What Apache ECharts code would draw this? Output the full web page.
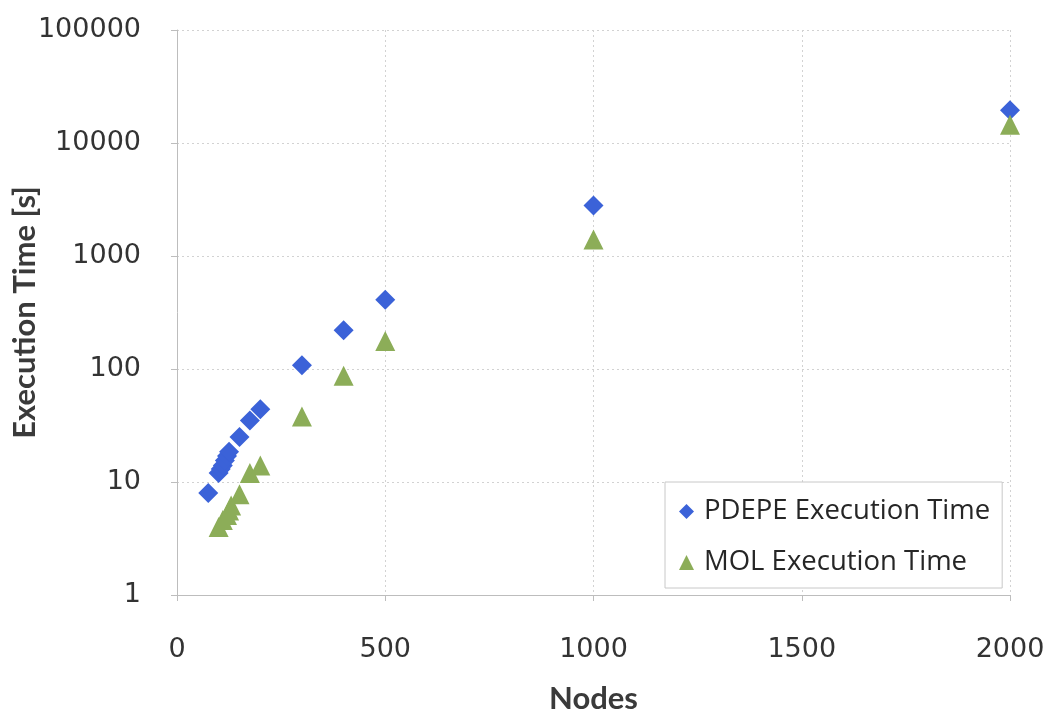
<!DOCTYPE html>
<html>
<head>
<meta charset="utf-8">
<script src="https://cdn.jsdelivr.net/npm/echarts@6/dist/echarts.min.js"></script>
<style>
  html, body { margin: 0; padding: 0; background: #ffffff; }
  #chart { width: 1047px; height: 715px; }
</style>
</head>
<body>
<div id="chart"></div>
<script>
// Execution time versus number of nodes for the two solvers
const pdepeNodes = [75, 100, 105, 110, 115, 120, 125, 150, 175, 200, 300, 400, 500, 1000, 2000];
const pdepeTime  = [8, 12, 13, 14, 15.5, 17, 18.5, 25, 35, 44, 108, 220, 410, 2800, 19500];

const molNodes = [100, 110, 120, 125, 130, 150, 175, 200, 300, 400, 500, 1000, 2000];
const molTime  = [4, 4.6, 5.1, 5.6, 6.2, 7.8, 12, 14, 38, 87, 177, 1400, 14500];

const seriesNames = ['PDEPE Execution Time', 'MOL Execution Time'];
const xTicks = [0, 500, 1000, 1500, 2000];
const yTicks = [1, 10, 100, 1000, 10000, 100000];

const pair = (xs, ys) => xs.map((x, i) => [x, ys[i]]);

const gridLine = { show: true, lineStyle: { color: '#d2d2d2', type: [2, 3], width: 1 } };
const axisLine = { show: true, lineStyle: { color: '#bdbdbd', width: 1 } };
const axisTick = { show: true, length: 6, lineStyle: { color: '#bdbdbd' } };
const tickFont = { fontFamily: 'DejaVu Sans', fontSize: 27, color: '#333333' };
const titleFont = { fontFamily: 'Lato', fontWeight: 'bold', fontSize: 31, color: '#3a3a3a' };

const chart = echarts.init(document.getElementById('chart'), null, { renderer: 'canvas' });
chart.setOption({
  animation: false,
  backgroundColor: '#ffffff',
  grid: { left: 177, right: 37, top: 30, bottom: 120, containLabel: false, outerBoundsMode: 'none' },
  xAxis: {
    type: 'value',
    min: xTicks[0],
    max: xTicks[xTicks.length - 1],
    interval: xTicks[1] - xTicks[0],
    name: 'Nodes',
    nameLocation: 'middle',
    nameGap: 88,
    nameMoveOverlap: false,
    nameTextStyle: titleFont,
    axisLine: axisLine,
    axisTick: axisTick,
    splitLine: gridLine,
    axisLabel: Object.assign({ margin: 41, formatter: v => String(v) }, tickFont)
  },
  yAxis: {
    type: 'log',
    logBase: 10,
    min: yTicks[0],
    max: yTicks[yTicks.length - 1],
    name: 'Execution Time [s]',
    nameLocation: 'middle',
    nameGap: 137,
    nameMoveOverlap: false,
    nameRotate: 90,
    nameTextStyle: titleFont,
    axisLine: axisLine,
    axisTick: axisTick,
    splitLine: gridLine,
    axisLabel: Object.assign({ margin: 36, formatter: v => String(Math.round(v)) }, tickFont)
  },
  legend: {
    orient: 'vertical',
    left: 665,
    top: 482,
    padding: [14, 12, 10, 14],
    itemGap: 20,
    itemWidth: 15,
    itemHeight: 15,
    borderColor: '#c8c8c8',
    borderWidth: 1,
    backgroundColor: '#ffffff',
    textStyle: { fontFamily: 'Open Sans', fontSize: 27.5, color: '#262626', lineHeight: 31, padding: [0, 0, 0, 5] },
    data: [
      { name: seriesNames[0], icon: 'diamond' },
      { name: seriesNames[1], icon: 'triangle' }
    ]
  },
  series: [
    {
      name: seriesNames[0],
      type: 'scatter',
      symbol: 'diamond',
      symbolSize: 20,
      itemStyle: { color: '#3b62d8', opacity: 1 },
      data: pair(pdepeNodes, pdepeTime),
      z: 2
    },
    {
      name: seriesNames[1],
      type: 'scatter',
      symbol: 'triangle',
      symbolSize: 20,
      itemStyle: { color: '#8cad58', opacity: 1 },
      data: pair(molNodes, molTime),
      z: 3
    }
  ]
});
</script>
</body>
</html>
